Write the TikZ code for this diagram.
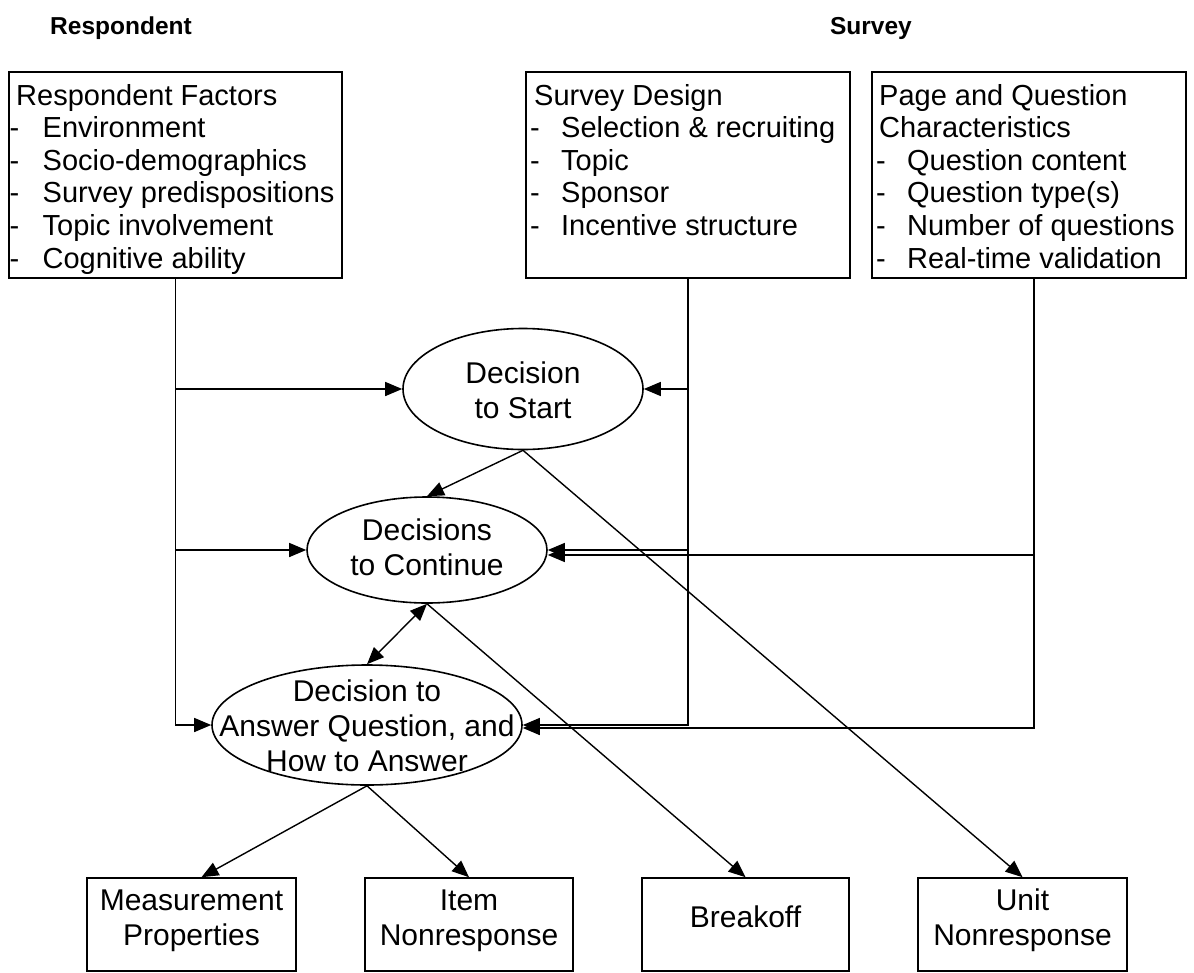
\documentclass[tikz,border=0pt]{standalone}
\usepackage{fontspec}
\setmainfont{Liberation Sans}
\usetikzlibrary{shapes.geometric,arrows.meta}
\newcommand\itm[1]{\makebox[#1][l]{-}}
\begin{document}
\begin{tikzpicture}[x=1pt,y=-1pt,
  box/.style={draw, rectangle, line width=1.6pt, inner sep=0pt},
  ell/.style={draw, ellipse, line width=1.6pt, inner sep=0pt},
  conn/.style={line width=1.4pt},
  arr/.style={conn, -{Triangle[length=17pt,width=14pt]}},
  darr/.style={conn, {Triangle[length=17pt,width=14pt]}-{Triangle[length=17pt,width=14pt]}},
  boxtxt/.style={inner sep=0pt, anchor=base west, font=\fontsize{29}{32.6}\selectfont},
  midtxt/.style={inner sep=0pt, anchor=base, font=\fontsize{30}{35}\selectfont},
  hdr/.style={inner sep=0pt, anchor=base, font=\fontsize{24.5}{28}\selectfont\bfseries}
]
\useasboundingbox (0,0) rectangle (1194,972);

% headers
\node[hdr] (hr) at (121,34) {Respondent};
\node[hdr] (hs) at (871,34) {Survey};

% top boxes
\node[box, minimum width=333pt, minimum height=206pt] (rf) at (175.5,175) {};
\node[boxtxt] (rft) at (9.5,105) {\parbox[t]{330pt}{\raggedright
  \hspace*{6.5pt}Respondent Factors\\
  \itm{33pt}Environment\\
  \itm{33pt}Socio-demographics\\
  \itm{33pt}Survey predispositions\\
  \itm{33pt}Topic involvement\\
  \itm{33pt}Cognitive ability}};

\node[box, minimum width=324pt, minimum height=206pt] (sd) at (688,175) {};
\node[boxtxt] (sdt) at (530,105) {\parbox[t]{320pt}{\raggedright
  \hspace*{4pt}Survey Design\\
  \itm{31pt}Selection \& recruiting\\
  \itm{31pt}Topic\\
  \itm{31pt}Sponsor\\
  \itm{31pt}Incentive structure}};

\node[box, minimum width=314pt, minimum height=206pt] (pq) at (1029,175) {};
\node[boxtxt] (pqt) at (876,105) {\parbox[t]{310pt}{\raggedright
  \hspace*{3pt}Page and Question\\
  \hspace*{3pt}Characteristics\\
  \itm{31pt}Question content\\
  \itm{31pt}Question type(s)\\
  \itm{31pt}Number of questions\\
  \itm{31pt}Real-time validation}};

% ellipses
\node[ell, minimum width=240pt, minimum height=121pt] (start) at (523,389) {};
\node[midtxt] (startt) at (523,383) {\parbox[t]{240pt}{\centering Decision\\to Start}};

\node[ell, minimum width=240pt, minimum height=106pt] (cont) at (427,550) {};
\node[midtxt] (contt) at (427,540) {\parbox[t]{240pt}{\centering Decisions\\to Continue}};

\node[ell, minimum width=310pt, minimum height=120pt] (ans) at (367,725) {};
\node[midtxt] (anst) at (367,701) {\parbox[t]{330pt}{\centering Decision to\\Answer Question, and\\How to Answer}};

% bottom boxes
\node[box, minimum width=209pt, minimum height=93pt] (meas) at (191.5,924.5) {};
\node[midtxt] (meast) at (191.5,910) {\parbox[t]{220pt}{\centering Measurement\\Properties}};
\node[box, minimum width=208pt, minimum height=93pt] (item) at (469,924.5) {};
\node[midtxt] (itemt) at (469,910) {\parbox[t]{220pt}{\centering Item\\Nonresponse}};
\node[box, minimum width=207pt, minimum height=93pt] (brk) at (745.5,924.5) {};
\node[midtxt] (brkt) at (745.5,927) {Breakoff};
\node[box, minimum width=209pt, minimum height=93pt] (unit) at (1022.5,924.5) {};
\node[midtxt] (unitt) at (1022.5,910) {\parbox[t]{220pt}{\centering Unit\\Nonresponse}};

% respondent factors connectors
\draw[arr] (rf.south) |- (ans.west);
\draw[arr] (rf.south |- start.west) -- (start.west);
\draw[arr] (rf.south |- cont.west) -- (cont.west);

% survey design connectors
\draw[arr] (sd.south) |- (ans.east);
\draw[arr] (sd.south |- start.east) -- (start.east);
\draw[arr] (sd.south |- cont.east) -- (cont.east);

% page and question connectors
\coordinate (pqs) at ([xshift=5pt]pq.south);
\coordinate (c3) at ([yshift=-5pt]cont.east);
\coordinate (a3) at ([yshift=-3pt]ans.east);
\draw[arr] (pqs) |- (a3);
\draw[arr] (pqs |- c3) -- (c3);

% decision flow
\draw[arr] (start.south) -- (cont.north);
\draw[arr] (start.south) -- (unit.north);
\draw[darr] (cont.south) -- (ans.north);
\draw[arr] (cont.south) -- (brk.north);
\draw[arr] (ans.south) -- ([xshift=10pt]meas.north);
\draw[arr] (ans.south) -- (item.north);
\end{tikzpicture}
\end{document}
